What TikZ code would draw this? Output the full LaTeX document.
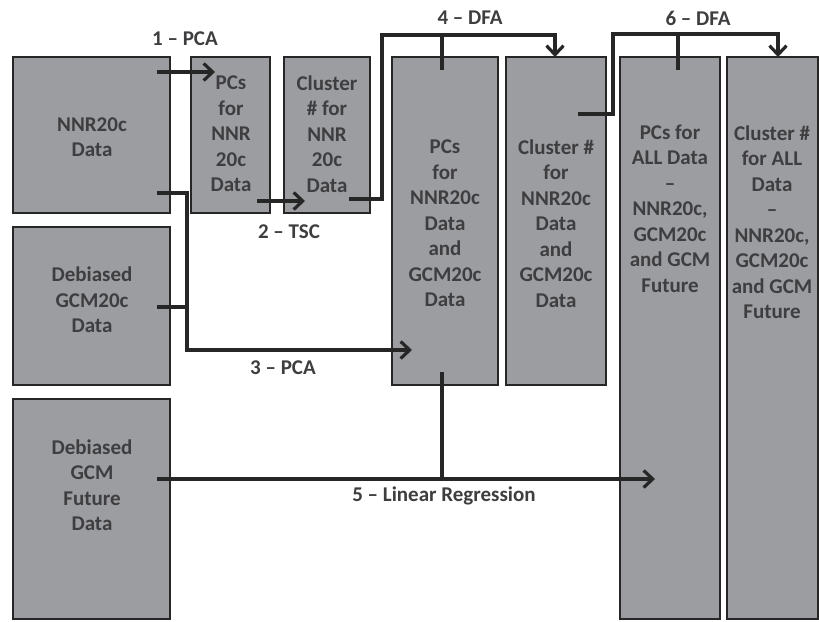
\documentclass[tikz,border=0pt]{standalone}
\usepackage{fontspec}
\setmainfont{Carlito}
\usetikzlibrary{arrows.meta}
\definecolor{boxfill}{RGB}{156,157,161}
\definecolor{boxline}{RGB}{38,38,38}
\definecolor{txt}{RGB}{62,62,64}
\tikzset{
  box/.style={draw=boxline, fill=boxfill, line width=2.6pt, rectangle, inner sep=0pt},
  boxtext/.style={text=txt, align=center, inner sep=0pt, font=\fontsize{21}{25.5}\selectfont\bfseries},
  lbl/.style={text=txt, inner sep=0pt, font=\fontsize{21}{25.5}\selectfont\bfseries},
  conn/.style={draw=boxline, line width=3.2pt},
  arr/.style={conn, -{Straight Barb[length=9pt,width=17pt,line width=3.2pt]}},
}
\begin{document}
\begin{tikzpicture}[x=1pt,y=-1pt]
\useasboundingbox (0,0) rectangle (819,621);
% boxes
\node[box, minimum width=157pt, minimum height=156pt] (nnr) at (91.5,135) {};
\node[box, minimum width=79pt, minimum height=156pt] (pcn) at (230.5,135) {};
\node[box, minimum width=86pt, minimum height=156pt] (cln) at (327,135) {};
\node[box, minimum width=157pt, minimum height=158pt] (gcm) at (91.5,306) {};
\node[box, minimum width=157pt, minimum height=220pt] (fut) at (91.5,509) {};
\node[box, minimum width=106pt, minimum height=328pt] (pcb) at (445,221) {};
\node[box, minimum width=100pt, minimum height=328pt] (clb) at (556,221) {};
\node[box, minimum width=100pt, minimum height=562pt] (pca) at (670,338) {};
\node[box, minimum width=91pt, minimum height=562pt] (cla) at (772.5,338) {};
% box texts
\node[boxtext] (tnnr) at (92,137) {NNR20c\\Data};
\node[boxtext] (tpcn) at (231,134) {PCs\\for\\NNR\\20c\\Data};
\node[boxtext] (tcln) at (327,134) {Cluster\\\# for\\NNR\\20c\\Data};
\node[boxtext] (tgcm) at (92,300) {Debiased\\GCM20c\\Data};
\node[boxtext] (tfut) at (92,485) {Debiased\\GCM\\Future\\Data};
\node[boxtext] (tpcb) at (445,223.5) {PCs\\for\\NNR20c\\Data\\and\\GCM20c\\Data};
\node[boxtext] (tclb) at (556,223.5) {Cluster \#\\for\\NNR20c\\Data\\and\\GCM20c\\Data};
\node[boxtext] (tpca) at (670,208.5) {PCs for\\ALL Data\\–\\NNR20c,\\GCM20c\\and GCM\\Future};
\node[boxtext] (tcla) at (772,222) {Cluster \#\\for ALL\\Data\\–\\NNR20c,\\GCM20c\\and GCM\\Future};
% labels
\node[lbl] (l1) at (185,39) {1 – PCA};
\node[lbl] (l2) at (289,232) {2 – TSC};
\node[lbl] (l3) at (283,368) {3 – PCA};
\node[lbl] (l4) at (470,18) {4 – DFA};
\node[lbl] (l6) at (698,18) {6 – DFA};
\node[lbl] (l5) at (444,496) {5 – Linear Regression};
% connector points
\coordinate (a1s) at (157,72);   \coordinate (a1e) at (215,72);
\coordinate (a2s) at (257,201);  \coordinate (a2e) at (305,201);
\coordinate (a4s) at (349,199);  \coordinate (a4c) at (382,35);
\coordinate (a4e) at (555,57);   \coordinate (a4t) at (442,70);
\coordinate (a6s) at (578,114);  \coordinate (a6c) at (613,34);
\coordinate (a6e) at (778,57);   \coordinate (a6t) at (678,70);
\coordinate (a3s) at (157,193);  \coordinate (a3g) at (157,307);
\coordinate (a3j) at (187,350);  \coordinate (a3e) at (412,350);
\coordinate (a5s) at (157,479);  \coordinate (a5e) at (655,479);
\coordinate (a5t) at (442,372);
% connectors
\draw[arr] (a1s) -- (a1e);
\draw[arr] (a2s) -- (a2e);
\draw[arr] (a4s) -| (a4c) -| (a4e);
\draw[conn] (a4t) -- (a4t |- a4c);
\draw[arr] (a6s) -| (a6c) -| (a6e);
\draw[conn] (a6t) -- (a6t |- a6c);
\draw[conn] (a3s) -| (a3j);
\draw[conn] (a3g) -- (a3g -| a3j);
\draw[arr] (a3j |- a3s) -- (a3j) -- (a3e);
\draw[arr] (a5s) -- (a5e);
\draw[conn] (a5t) -- (a5t |- a5s);
\end{tikzpicture}
\end{document}
